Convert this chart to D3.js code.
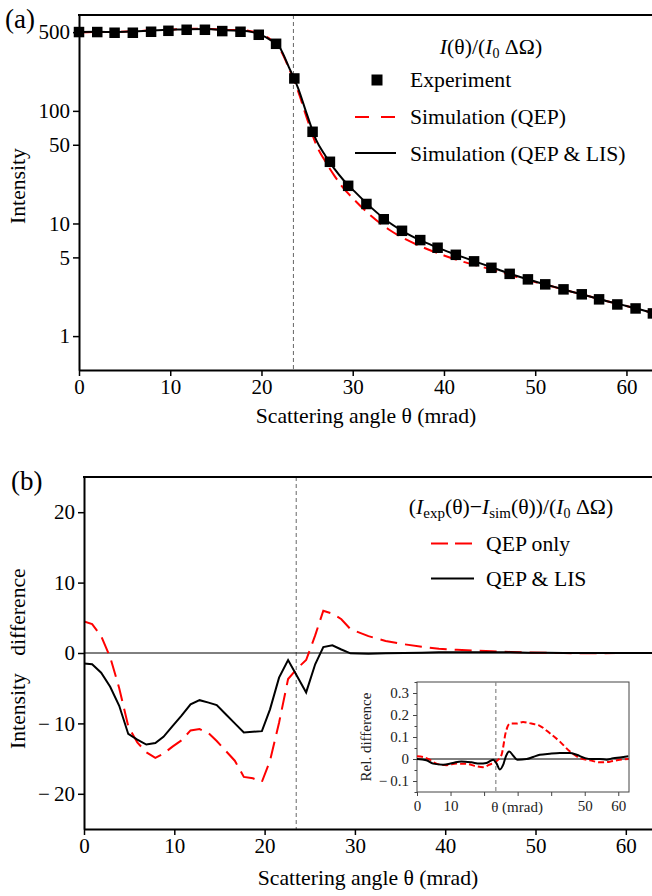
<!DOCTYPE html>
<html>
<head>
<meta charset="utf-8">
<script src="https://cdn.jsdelivr.net/npm/d3@7"></script>
<style>
body { margin: 0; background: #fff; }
svg { display: block; }
</style>
</head>
<body>
<svg width="652" height="896"></svg>
<script>
// panel (a): measured and simulated intensity
const expTheta = [0, 2.0, 3.9, 5.9, 7.9, 9.8, 11.8, 13.8, 15.7, 17.7, 19.7, 21.6, 23.6, 25.6, 27.5, 29.5, 31.5, 33.4, 35.4, 37.4, 39.3, 41.3, 43.3, 45.2, 47.2, 49.2, 51.1, 53.1, 55.1, 57.0, 59.0, 61.0, 62.9];
const expIntensity = [501, 501, 494, 494, 504, 514, 525, 525, 511, 504, 474, 394, 194, 65.2, 35.3, 21.6, 14.9, 10.9, 8.61, 7.12, 6.09, 5.27, 4.61, 4.04, 3.57, 3.19, 2.88, 2.60, 2.35, 2.12, 1.91, 1.76, 1.59];
const simTheta = [0, 2, 4, 6, 8, 10, 12, 14, 16, 18, 19, 20, 21, 22, 23, 24, 25, 26, 27, 28, 29, 30, 32, 34, 36, 38, 40, 42, 44, 46, 48, 50, 52, 54, 56, 58, 60, 62, 63];
const simQEP = [496, 501, 502, 508, 519, 527, 536, 536, 524, 521, 507, 478, 430, 355, 240, 150, 85, 50, 35.5, 26.5, 20.5, 16.8, 11.7, 8.8, 7.1, 6.0, 5.2, 4.6, 4.15, 3.74, 3.35, 3.02, 2.74, 2.48, 2.25, 2.03, 1.85, 1.68, 1.59];
const simLIS = [502, 504, 501, 507, 517, 524, 531, 532, 520, 514, 500, 470, 425, 365, 245, 160, 92, 55, 40, 30.5, 24.2, 20.0, 13.9, 10.2, 8.1, 6.75, 5.8, 5.05, 4.42, 3.88, 3.42, 3.05, 2.75, 2.48, 2.25, 2.03, 1.85, 1.68, 1.59];

// panel (b): absolute difference
const diffTheta = [0, 0.9, 1.9, 2.9, 3.9, 4.9, 5.9, 6.9, 7.9, 8.8, 9.8, 10.8, 11.8, 12.8, 13.8, 14.7, 15.7, 16.7, 17.7, 18.7, 19.7, 20.6, 21.6, 22.6, 23.6, 24.6, 25.6, 26.5, 27.5, 28.5, 29.5, 31.5, 33.4, 35.4, 37.4, 39.3, 41.3, 43.3, 45.2, 47.2, 49.2, 51.1, 53.1, 55.1, 57.0, 59.0, 61.0, 62.9];
const diffQEP = [4.5, 4.1, 2.4, -0.6, -5.0, -10.4, -12.7, -14.1, -14.9, -14.3, -13.3, -12.4, -11.0, -10.8, -11.4, -12.5, -13.9, -15.3, -17.6, -17.8, -18.3, -15.3, -9.9, -3.7, -2.2, -1.0, 2.5, 6.0, 5.6, 4.8, 3.4, 2.4, 1.7, 1.25, 0.9, 0.6, 0.45, 0.35, 0.25, 0.15, 0.07, 0.02, 0.0, -0.05, -0.05, 0.0, 0.0, 0.0];
const diffLIS = [-1.5, -1.6, -2.8, -4.8, -7.5, -11.5, -12.3, -13.0, -12.8, -11.9, -10.4, -8.9, -7.3, -6.7, -7.05, -7.4, -8.7, -10.0, -11.3, -11.2, -11.1, -8.0, -3.5, -1.0, -3.3, -5.6, -1.6, 0.85, 1.1, 0.5, -0.05, -0.1, -0.05, 0.0, 0.05, 0.1, 0.1, 0.1, 0.1, 0.1, 0.05, 0.05, 0.0, 0.0, 0.0, 0.0, 0.0, 0.0];

// inset: relative difference
const relThetaQEP = [0, 1.8, 3.8, 5.8, 8.8, 11.8, 14.7, 17.7, 19.7, 21.7, 23.7, 25.2, 26.5, 27.7, 29.7, 31.6, 34.1, 36.6, 39.6, 42.6, 45.6, 48.6, 51.6, 54.5, 57.5, 60.5, 63.0];
const relQEP = [0.012, 0.009, -0.003, -0.021, -0.028, -0.021, -0.022, -0.033, -0.037, -0.025, -0.010, 0.019, 0.124, 0.161, 0.161, 0.168, 0.161, 0.151, 0.117, 0.079, 0.034, 0.004, -0.006, -0.015, -0.012, -0.003, 0.0];
const relThetaLIS = [0, 2.8, 4.8, 7.8, 10.7, 13.2, 16.2, 18.7, 20.7, 22.7, 23.7, 24.7, 25.7, 26.5, 27.5, 28.7, 29.9, 32.7, 34.6, 36.6, 39.6, 42.6, 45.6, 47.6, 50.1, 52.1, 54.5, 56.5, 58.5, 60.5, 63.0];
const relLIS = [0, -0.006, -0.021, -0.026, -0.018, -0.011, -0.015, -0.021, -0.018, -0.003, -0.02, -0.048, -0.026, 0.012, 0.034, 0.015, -0.003, 0.0, 0.009, 0.019, 0.024, 0.027, 0.027, 0.019, 0.004, 0, 0, -0.003, 0.004, 0.007, 0.012];

const xTicks = [0, 10, 20, 30, 40, 50, 60];
const logTicks = [1, 5, 10, 50, 100, 500];
const diffTicks = [-20, -10, 0, 10, 20];
const relTicks = [-0.1, 0, 0.1, 0.2, 0.3];
const relMinor = [-0.15, -0.05, 0.05, 0.15, 0.25, 0.35];
const insetLabelled = [0, 10, 50, 60];
const cutoff = 23.5;

const RED = "#ff0000";
const FONT = "Liberation Serif";
const LABEL = 21.7;
const minus = d => d < 0 ? "\u2212\u2009" + Math.abs(d) : String(d);

const svg = d3.select("svg");

function styleAxis(g, w) {
    g.select(".domain").attr("stroke-width", w);
    g.selectAll(".tick line").attr("stroke-width", 1.5);
    g.selectAll("text").attr("font-size", 21).attr("fill", "#000");
}

// ---------- panel (a) ----------
const xA = d3.scaleLinear().domain([0, 62.8]).range([79, 652]);
const yA = d3.scaleLog().domain([0.5, 710]).range([370, 15]);

svg.append("defs").append("clipPath").attr("id", "clipA")
    .append("rect").attr("x", 79).attr("y", 15).attr("width", 573).attr("height", 355);

svg.append("line")
    .attr("x1", xA(cutoff)).attr("x2", xA(cutoff))
    .attr("y1", 15).attr("y2", 370)
    .attr("stroke", "#666").attr("stroke-width", 1).attr("stroke-dasharray", "4,3");

const gA = svg.append("g").attr("clip-path", "url(#clipA)");
const lineA = d3.line().x(d => xA(d[0])).y(d => yA(d[1])).curve(d3.curveMonotoneX);

gA.append("path")
    .attr("d", lineA(d3.zip(simTheta, simQEP)))
    .attr("fill", "none").attr("stroke", RED).attr("stroke-width", 2)
    .attr("stroke-dasharray", "14,7");
gA.append("path")
    .attr("d", lineA(d3.zip(simTheta, simLIS)))
    .attr("fill", "none").attr("stroke", "#000").attr("stroke-width", 2);

svg.append("g").selectAll("rect")
    .data(d3.zip(expTheta, expIntensity))
    .enter().append("rect")
    .attr("x", d => xA(d[0]) - 5.25)
    .attr("y", d => yA(d[1]) - 5.25)
    .attr("width", 10.5).attr("height", 10.5)
    .attr("fill", "#000");

svg.append("g")
    .attr("transform", "translate(0,370)")
    .call(d3.axisBottom(xA).tickValues(xTicks).tickSizeOuter(0))
    .call(g => styleAxis(g, 2));
svg.append("g")
    .attr("transform", "translate(79,0)")
    .call(d3.axisLeft(yA).tickValues(logTicks).tickFormat(d3.format("d")).tickSizeOuter(0))
    .call(g => styleAxis(g, 2));
svg.append("line").attr("x1", 78).attr("x2", 652).attr("y1", 15).attr("y2", 15)
    .attr("stroke", "#000").attr("stroke-width", 2);

svg.append("text").attr("x", 5).attr("y", 28).attr("font-size", 27).text("(a)");
svg.append("text")
    .attr("transform", "translate(25,186) rotate(-90)")
    .attr("text-anchor", "middle").attr("font-size", LABEL).text("Intensity");
svg.append("text")
    .attr("x", 366).attr("y", 423)
    .attr("text-anchor", "middle").attr("font-size", LABEL)
    .text("Scattering angle \u03b8 (mrad)");

// legend (a)
const titleA = svg.append("text").attr("x", 491).attr("y", 54)
    .attr("text-anchor", "middle").attr("font-size", LABEL);
titleA.append("tspan").attr("font-style", "italic").text("I");
titleA.append("tspan").text("(\u03b8)/(");
titleA.append("tspan").attr("font-style", "italic").text("I");
titleA.append("tspan").attr("font-size", 14).attr("dy", 4).text("0");
titleA.append("tspan").attr("dy", -4).text(" \u0394\u03a9)");

svg.append("rect").attr("x", 371.5).attr("y", 74.5).attr("width", 11).attr("height", 11).attr("fill", "#000");
svg.append("text").attr("x", 410).attr("y", 87).attr("font-size", LABEL).text("Experiment");
svg.append("line").attr("x1", 355).attr("x2", 396).attr("y1", 117).attr("y2", 117)
    .attr("stroke", RED).attr("stroke-width", 2).attr("stroke-dasharray", "14,12");
svg.append("text").attr("x", 410).attr("y", 124).attr("font-size", LABEL).text("Simulation (QEP)");
svg.append("line").attr("x1", 355).attr("x2", 396).attr("y1", 153).attr("y2", 153)
    .attr("stroke", "#000").attr("stroke-width", 2);
svg.append("text").attr("x", 410).attr("y", 160.5).attr("font-size", LABEL).text("Simulation (QEP & LIS)");

// ---------- panel (b) ----------
const xB = d3.scaleLinear().domain([0, 62.9]).range([84, 652]);
const yB = d3.scaleLinear().domain([-25, 25]).range([829, 477]);

svg.select("defs").append("clipPath").attr("id", "clipB")
    .append("rect").attr("x", 84).attr("y", 477).attr("width", 568).attr("height", 352);

svg.append("line")
    .attr("x1", xB(cutoff)).attr("x2", xB(cutoff))
    .attr("y1", 477).attr("y2", 829)
    .attr("stroke", "#666").attr("stroke-width", 1).attr("stroke-dasharray", "4,3");
svg.append("line")
    .attr("x1", 84).attr("x2", 652).attr("y1", yB(0)).attr("y2", yB(0))
    .attr("stroke", "#000").attr("stroke-width", 1);

const gB = svg.append("g").attr("clip-path", "url(#clipB)");
const lineB = d3.line().x(d => xB(d[0])).y(d => yB(d[1]));
gB.append("path")
    .attr("d", lineB(d3.zip(diffTheta, diffQEP)))
    .attr("fill", "none").attr("stroke", RED).attr("stroke-width", 2)
    .attr("stroke-dasharray", "17,8");
gB.append("path")
    .attr("d", lineB(d3.zip(diffTheta, diffLIS)))
    .attr("fill", "none").attr("stroke", "#000").attr("stroke-width", 2);

svg.append("g")
    .attr("transform", "translate(0,829)")
    .call(d3.axisBottom(xB).tickValues(xTicks).tickSizeOuter(0))
    .call(g => styleAxis(g, 2));
svg.append("g")
    .attr("transform", "translate(84,0)")
    .call(d3.axisLeft(yB).tickValues(diffTicks).tickFormat(minus).tickSizeOuter(0))
    .call(g => styleAxis(g, 2));
svg.append("line").attr("x1", 83).attr("x2", 652).attr("y1", 477).attr("y2", 477)
    .attr("stroke", "#000").attr("stroke-width", 2);

svg.append("text").attr("x", 11).attr("y", 490).attr("font-size", 27).text("(b)");
svg.append("text")
    .attr("transform", "translate(25,612) rotate(-90)")
    .attr("text-anchor", "middle").attr("font-size", LABEL).text("difference");
svg.append("text")
    .attr("transform", "translate(25,711) rotate(-90)")
    .attr("text-anchor", "middle").attr("font-size", LABEL).text("Intensity");
svg.append("text")
    .attr("x", 368).attr("y", 885)
    .attr("text-anchor", "middle").attr("font-size", LABEL)
    .text("Scattering angle \u03b8 (mrad)");

// legend (b)
const titleB = svg.append("text").attr("x", 511).attr("y", 514)
    .attr("text-anchor", "middle").attr("font-size", LABEL);
titleB.append("tspan").text("(");
titleB.append("tspan").attr("font-style", "italic").text("I");
titleB.append("tspan").attr("font-size", 15).attr("dy", 4).text("exp");
titleB.append("tspan").attr("dy", -4).text("(\u03b8)\u2212");
titleB.append("tspan").attr("font-style", "italic").text("I");
titleB.append("tspan").attr("font-size", 15).attr("dy", 4).text("sim");
titleB.append("tspan").attr("dy", -4).text("(\u03b8))/(");
titleB.append("tspan").attr("font-style", "italic").text("I");
titleB.append("tspan").attr("font-size", 14).attr("dy", 4).text("0");
titleB.append("tspan").attr("dy", -4).text(" \u0394\u03a9)");

svg.append("line").attr("x1", 431).attr("x2", 472).attr("y1", 543.5).attr("y2", 543.5)
    .attr("stroke", RED).attr("stroke-width", 2).attr("stroke-dasharray", "17,7");
svg.append("text").attr("x", 486).attr("y", 551).attr("font-size", LABEL).text("QEP only");
svg.append("line").attr("x1", 431).attr("x2", 474).attr("y1", 578.5).attr("y2", 578.5)
    .attr("stroke", "#000").attr("stroke-width", 2);
svg.append("text").attr("x", 486).attr("y", 586).attr("font-size", LABEL).text("QEP & LIS");

// ---------- inset ----------
const xI = d3.scaleLinear().domain([0, 63.2]).range([417, 629]);
const yI = d3.scaleLinear().domain([-0.15, 0.35]).range([792, 682]);

svg.append("rect").attr("x", 417).attr("y", 682).attr("width", 212).attr("height", 110)
    .attr("fill", "#fff").attr("stroke", "#444").attr("stroke-width", 1);
svg.append("line")
    .attr("x1", xI(cutoff)).attr("x2", xI(cutoff)).attr("y1", 682).attr("y2", 792)
    .attr("stroke", "#888").attr("stroke-width", 1.2).attr("stroke-dasharray", "4,3");
svg.append("line")
    .attr("x1", 417).attr("x2", 629).attr("y1", yI(0)).attr("y2", yI(0))
    .attr("stroke", "#000").attr("stroke-width", 1);

const lineI = d3.line().x(d => xI(d[0])).y(d => yI(d[1])).curve(d3.curveMonotoneX);
svg.append("path")
    .attr("d", lineI(d3.zip(relThetaQEP, relQEP)))
    .attr("fill", "none").attr("stroke", RED).attr("stroke-width", 2)
    .attr("stroke-dasharray", "6,3");
svg.append("path")
    .attr("d", lineI(d3.zip(relThetaLIS, relLIS)))
    .attr("fill", "none").attr("stroke", "#000").attr("stroke-width", 2);

function styleInset(g) {
    g.select(".domain").remove();
    g.selectAll(".tick line").attr("stroke", "#444");
    g.selectAll("text").attr("font-size", 15).attr("fill", "#222");
}
svg.append("g")
    .attr("transform", "translate(0,792)")
    .call(d3.axisBottom(xI).tickValues(xTicks).tickSize(4).tickPadding(4)
        .tickFormat(d => insetLabelled.includes(d) ? d : ""))
    .call(styleInset);
svg.append("g")
    .attr("transform", "translate(417,0)")
    .call(d3.axisLeft(yI).tickValues(relMinor).tickSize(2.5).tickFormat(""))
    .call(styleInset);
svg.append("g")
    .attr("transform", "translate(417,0)")
    .call(d3.axisLeft(yI).tickValues(relTicks).tickSize(4).tickPadding(4).tickFormat(minus))
    .call(styleInset);

svg.append("text").attr("x", 517).attr("y", 812)
    .attr("text-anchor", "middle").attr("font-size", 15).attr("fill", "#222")
    .text("\u03b8 (mrad)");
svg.append("text")
    .attr("transform", "translate(371,737) rotate(-90)")
    .attr("text-anchor", "middle").attr("font-size", 15).attr("fill", "#222")
    .text("Rel. difference");

// serif everywhere, inline so the axis defaults do not win
svg.selectAll("g").style("font-family", FONT);
svg.selectAll("text").style("font-family", FONT);
</script>
</body>
</html>
